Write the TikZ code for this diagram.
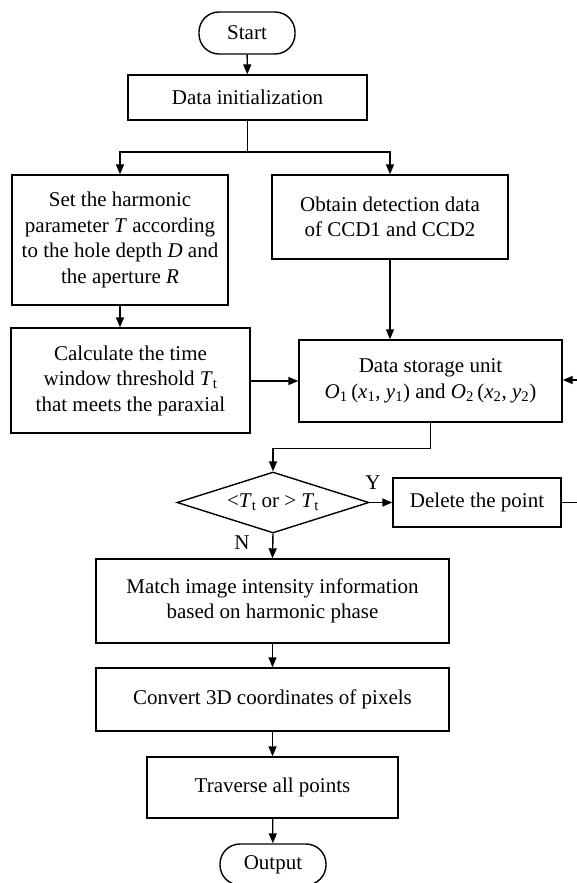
\documentclass[tikz,border=0pt]{standalone}
\usepackage{fontspec}
\setmainfont{Liberation Serif}
\usetikzlibrary{shapes.geometric,arrows.meta}
\newcommand\subt{\textsubscript{t}}
\newcommand\subn[1]{\textsubscript{#1}}
\begin{document}
\begin{tikzpicture}[x=1pt,y=-1pt,
 box/.style={draw,line width=1.4pt,inner sep=0pt,align=center,font=\fontsize{21}{25.5}\selectfont},
 arr/.style={line width=1.4pt,-{Triangle[length=10pt,width=8pt]}},
 ln/.style={line width=1.4pt},
 lbl/.style={font=\fontsize{21}{25.5}\selectfont,inner sep=0pt}]
\useasboundingbox (0,0) rectangle (577,883);
\clip (0,0) rectangle (577,883);
\fill[white] (0,0) rectangle (577,883);
\node[box, rounded corners=20pt, minimum width=96pt, minimum height=42pt] (start) at (247,33) {Start};
\node[box, minimum width=239pt, minimum height=45pt] (init) at (247.5,97.5) {Data initialization};
\node[box, minimum width=216pt, minimum height=130pt] (set) at (120,240) {Set the harmonic\\parameter \textit{T} according\\to the hole depth \textit{D} and\\the aperture \textit{R}};
\node[box, minimum width=236pt, minimum height=84pt] (obtain) at (390,217) {Obtain detection data\\of CCD1 and CCD2};
\node[box, minimum width=239pt, minimum height=105pt] (calc) at (130.5,380.5) {Calculate the time\\window threshold \textit{T}\subt\\that meets the paraxial};
\node[box, minimum width=263pt, minimum height=82pt] (store) at (430.5,381) {Data storage unit\\\textit{O}\subn{1}\,(\textit{x}\subn{1}, \textit{y}\subn{1}) and \textit{O}\subn{2}\,(\textit{x}\subn{2}, \textit{y}\subn{2})};
\node[box, shape=diamond, aspect=3.15, minimum width=192pt, minimum height=61pt] (dia) at (273,502.5) {\raisebox{1pt}{<\textit{T}\subt{} or > \textit{T}\subt}};
\node[box, minimum width=168pt, minimum height=49pt] (del) at (477,502.5) {Delete the point};
\node[box, minimum width=353pt, minimum height=84pt] (match) at (272.5,601) {Match image intensity information\\based on harmonic phase};
\node[box, minimum width=353pt, minimum height=63pt] (conv) at (272.5,699.5) {Convert 3D coordinates of pixels};
\node[box, minimum width=251pt, minimum height=61pt] (trav) at (272.5,787.5) {Traverse all points};
\node[box, rounded corners=20pt, minimum width=106pt, minimum height=41pt] (out) at (273,864.5) {Output};
\node[lbl] (ylab) at (373,483) {Y};
\node[lbl] (nlab) at (242,543) {N};
\coordinate (branch) at (247.5,152);
\coordinate (loopA) at (590,502.5);
\coordinate (loopB) at (590,380);
\draw[arr] (start) -- (init);
\draw[ln] (init) -- (branch);
\draw[arr] (branch) -| (set.north);
\draw[arr] (branch) -| (obtain.north);
\draw[arr] (set.south) -- (set.south |- calc.north);
\draw[arr] (obtain.south) -- (obtain.south |- store.north);
\draw[arr] (calc.east |- store.west) -- (store.west);
\draw[arr] (store.south) -- ++(0,26) -| (dia.north);
\draw[arr] (dia.east) -- (del.west);
\draw[arr] (dia.south) -- (match.north);
\draw[arr] (match) -- (conv);
\draw[arr] (conv) -- (trav);
\draw[arr] (trav) -- (out);
\draw[arr] (del.east) -- (loopA) -- (loopB) -- (store.east |- loopB);
\end{tikzpicture}
\end{document}
